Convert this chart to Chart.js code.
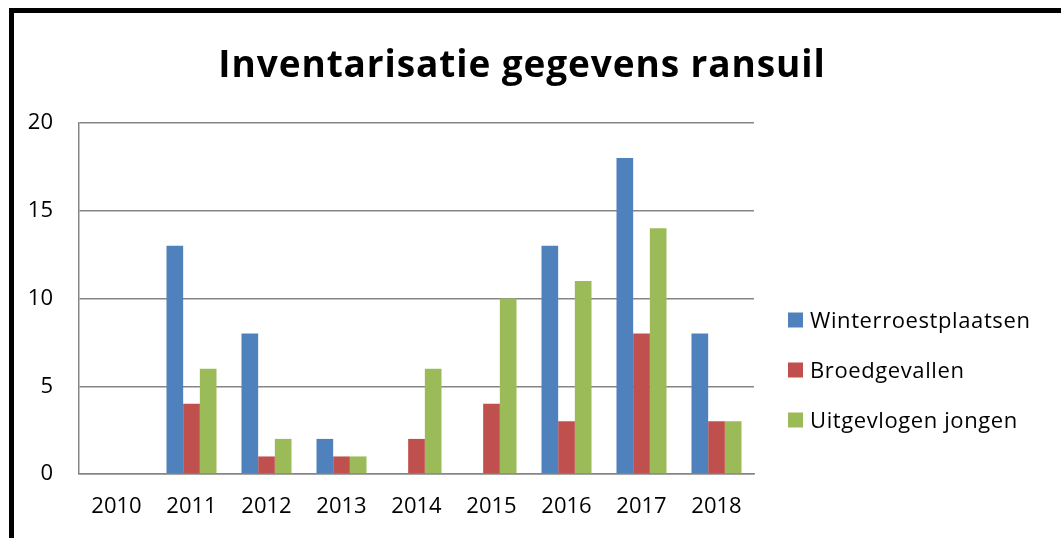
<!DOCTYPE html>
<html>
<head>
<meta charset="utf-8">
<script src="https://cdn.jsdelivr.net/npm/chart.js@4/dist/chart.umd.min.js"></script>
<style>
  html, body { margin: 0; padding: 0; background: #fff; overflow: hidden; }
  #kader { position: absolute; left: 9px; top: 8px; width: 1100px; height: 600px;
           border-left: 5px solid #000; border-top: 5px solid #000; }
  #grafiek { position: absolute; left: 0; top: 0; }
</style>
</head>
<body>
<div id="kader"></div>
<canvas id="grafiek" width="1061" height="538"></canvas>
<script>
const titel = "Inventarisatie gegevens ransuil";
const jaren = ["2010", "2011", "2012", "2013", "2014", "2015", "2016", "2017", "2018"];
const winterroestplaatsen = [0, 13, 8, 2, 0, 0, 13, 18, 8];
const broedgevallen = [0, 4, 1, 1, 2, 4, 3, 8, 3];
const uitgevlogenJongen = [0, 6, 2, 1, 6, 10, 11, 14, 3];
const reeksNamen = ["Winterroestplaatsen", "Broedgevallen", "Uitgevlogen jongen"];
const kleuren = ["#4F81BD", "#C0504D", "#9BBB59"];

// titel en legenda zelf tekenen, zodat ze net als in Excel staan
const tekstPlugin = {
    id: "tekst",
    afterDraw(chart) {
        const ctx = chart.ctx;
        ctx.save();
        ctx.fillStyle = "#000";
        ctx.font = "bold 37px 'Open Sans'";
        ctx.letterSpacing = "0.9px";
        ctx.textAlign = "center";
        ctx.textBaseline = "alphabetic";
        ctx.fillText(titel, 522, 77);

        ctx.font = "22px 'Open Sans'";
        ctx.letterSpacing = "0.6px";
        ctx.textAlign = "left";
        chart.data.datasets.forEach((ds, i) => {
            const basis = 328 + i * 50;
            ctx.fillStyle = ds.backgroundColor;
            ctx.fillRect(788, basis - 15.5, 15, 15);
            ctx.fillStyle = "#000";
            ctx.fillText(ds.label, 810, basis);
        });
        ctx.restore();
    }
};

const reeksen = [winterroestplaatsen, broedgevallen, uitgevlogenJongen];

let ctx = document.getElementById("grafiek").getContext("2d");
new Chart(ctx, {
    type: "bar",
    data: {
        labels: jaren,
        datasets: reeksen.map((waarden, i) => ({
            label: reeksNamen[i],
            data: waarden,
            backgroundColor: kleuren[i],
            borderWidth: 0,
            categoryPercentage: 0.667,
            barPercentage: 1
        }))
    },
    options: {
        responsive: false,
        animation: false,
        layout: { padding: { top: 123, right: 307, left: 0, bottom: 0 } },
        plugins: {
            legend: { display: false },
            title: { display: false },
            tooltip: { enabled: false }
        },
        scales: {
            x: {
                grid: { display: false, drawTicks: false },
                border: { color: "#868686", width: 1.5 },
                ticks: { color: "#000", font: { family: "'Open Sans'", size: 22 }, padding: 20 },
                afterFit: scale => { scale.height = 64; }
            },
            y: {
                min: 0,
                max: 20,
                grid: { color: "#868686", lineWidth: 1.5, drawTicks: false },
                border: { color: "#868686", width: 1.5 },
                ticks: { stepSize: 5, color: "#000", font: { family: "'Open Sans'", size: 22 }, padding: 26 },
                afterFit: scale => { scale.width = 79; }
            }
        }
    },
    plugins: [tekstPlugin]
});
</script>
</body>
</html>
